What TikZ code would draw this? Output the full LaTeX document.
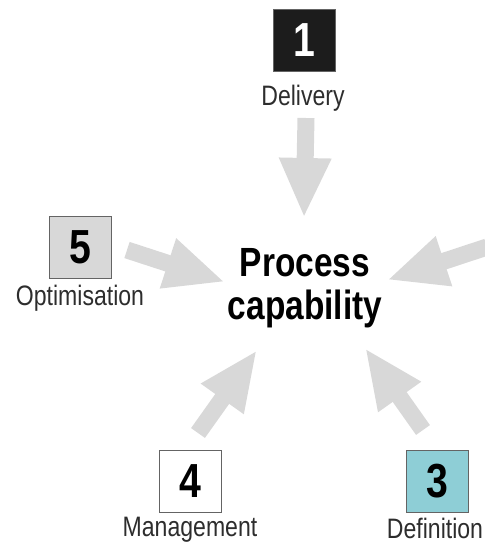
\documentclass[tikz,border=0pt]{standalone}
\usepackage{fontspec}
\setmainfont{Liberation Sans}[FakeStretch=0.82]
\usetikzlibrary{arrows.meta}
\definecolor{arrowgray}{RGB}{216,216,216}
\definecolor{boxline}{RGB}{100,100,100}
\definecolor{stageblack}{RGB}{28,28,28}
\definecolor{stagegray}{RGB}{216,216,216}
\definecolor{stageteal}{RGB}{142,206,214}
\definecolor{labeltext}{RGB}{45,45,45}
\tikzset{
  stage/.style={draw=boxline, line width=0.7pt, minimum size=1.55cm, inner sep=0pt, font=\fontsize{34}{34}\selectfont\bfseries},
  stagelabel/.style={font=\fontsize{20}{20}\selectfont, text=labeltext},
  bigarrow/.style={arrowgray, line width=0.425cm, -{Triangle[width=1.2cm,length=1.5cm]}}
}
\begin{document}
\begin{tikzpicture}[x=0.025cm, y=-0.025cm]
\useasboundingbox (0,0) rectangle (485,547);
\clip (0,0) rectangle (485,547);
% arrow ends
\coordinate (deliverytail) at (306,118);
\coordinate (deliverytip) at (304,218);
\coordinate (optimisationtail) at (127,250);
\coordinate (optimisationtip) at (225,282);
\coordinate (sidetail) at (487,247);
\coordinate (sidetip) at (387,280);
\coordinate (managementtail) at (198,433);
\coordinate (managementtip) at (257,350);
\coordinate (definitiontail) at (423,430);
\coordinate (definitiontip) at (365,348);
\draw[bigarrow] (deliverytail) -- (deliverytip);
\draw[bigarrow] (optimisationtail) -- (optimisationtip);
\draw[bigarrow] (sidetail) -- (sidetip);
\draw[bigarrow] (managementtail) -- (managementtip);
\draw[bigarrow] (definitiontail) -- (definitiontip);
% centre
\node[font=\fontsize{29}{31}\selectfont\bfseries, align=center] (capability) at (305,288) {Process\\capability};
% stages
\node[stage, fill=stageblack, text=white] (delivery) at (304,40) {1};
\node[stagelabel] (deliverylabel) at (303,98) {Delivery};
\node[stage, fill=stagegray] (optimisation) at (80,247) {5};
\node[stagelabel] (optimisationlabel) at (80,298) {Optimisation};
\node[stage, fill=white] (management) at (190,481) {4};
\node[stagelabel] (managementlabel) at (190,530) {Management};
\node[stage, fill=stageteal] (definition) at (437,481) {3};
\node[stagelabel] (definitionlabel) at (435,528) {Definition};
\end{tikzpicture}
\end{document}
